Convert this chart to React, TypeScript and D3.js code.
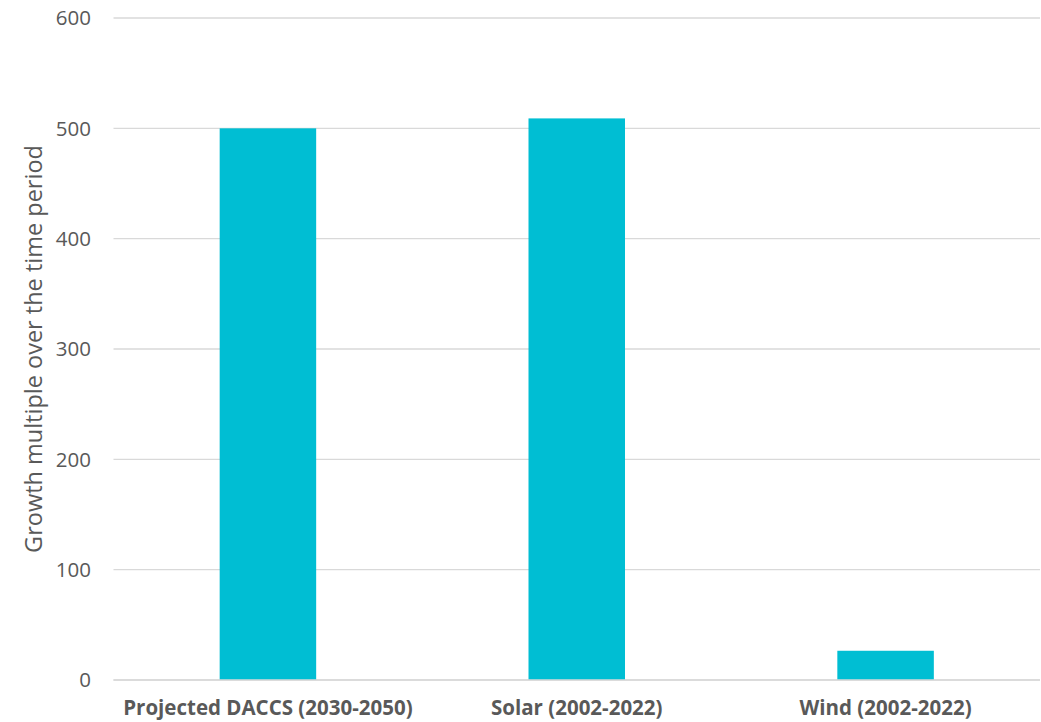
import React from "react";
import * as d3 from "d3";

const categories = ["Projected DACCS (2030-2050)", "Solar (2002-2022)", "Wind (2002-2022)"];
const values = [500, 509, 26.5];
const yTicks = [0, 100, 200, 300, 400, 500, 600];
const yTitle = "Growth multiple over the time period";

export default function App() {
  const W = 1041, H = 722;
  const left = 113.5, right = 1040, top = 18, bottom = 680;
  const y = d3.scaleLinear().domain([0, 600]).range([bottom, top]);
  const band = (right - left) / categories.length;
  const font = "'Open Sans', 'Segoe UI', sans-serif";
  return (
    <svg width={W} height={H} style={{ position: "absolute", left: 0, top: 0, background: "#fff" }}>
      {yTicks.map((t) => (
        <g key={t}>
          <line x1={left} x2={right} y1={y(t)} y2={y(t)} stroke="#d9d9d9" strokeWidth={1.3} />
          <text x={91} y={y(t)} dy="0.36em" textAnchor="end" fontFamily={font} fontSize={20.5} fill="#595959">{t}</text>
        </g>
      ))}
      {categories.map((c, i) => {
        const cx = left + band * (i + 0.5);
        const bw = 96.5;
        return (
          <g key={c}>
            <rect x={cx - bw / 2} y={y(values[i])} width={bw} height={y(0) - y(values[i])} fill="#00BED3" />
            <text x={cx} y={715} textAnchor="middle" fontFamily={font} fontWeight="bold" fontSize={20.5} fill="#595959">{c}</text>
          </g>
        );
      })}
      <line x1={left} x2={right} y1={y(0)} y2={y(0)} stroke="#d9d9d9" strokeWidth={1.3} />
      <text transform={`translate(42,${(top + bottom) / 2}) rotate(-90)`} textAnchor="middle" fontFamily={font} fontSize={23.5} fill="#595959">{yTitle}</text>
    </svg>
  );
}
